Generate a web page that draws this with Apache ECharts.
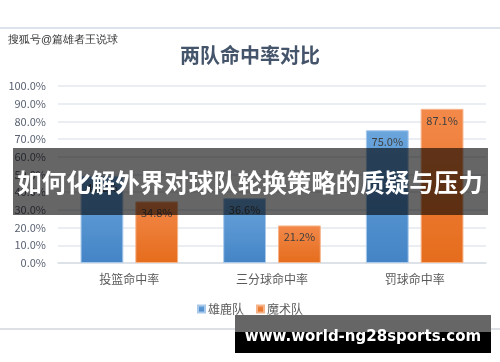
<!DOCTYPE html>
<html><head><meta charset="utf-8">
<script src="https://cdn.jsdelivr.net/npm/echarts@6/dist/echarts.min.js"></script>
<style>html,body{margin:0;padding:0;background:#fff}#c{width:500px;height:362px}</style>
</head><body><div id="c"></div>
<script>
const categories = ['投篮命中率', '三分球命中率', '罚球命中率'];
const seriesNames = ['雄鹿队', '魔术队'];
const bucks = [49.2, 36.6, 75.0];
const magic = [34.8, 21.2, 87.1];
const yTicks = [0, 10, 20, 30, 40, 50, 60, 70, 80, 90, 100];
const titleText = '两队命中率对比';
const watermark = '搜狐号@篇雄者王说球';
const bannerText = '如何化解外界对球队轮换策略的质疑与压力';
const footerText = 'www.world-ng28sports.com';

const font = '"Noto Sans CJK SC", "Noto Sans", sans-serif';
const chart = echarts.init(document.getElementById('c'));
function grad(top, bottom) {
  return new echarts.graphic.LinearGradient(0, 0, 0, 1, [{offset: 0, color: top}, {offset: 1, color: bottom}]);
}
const labelCfg = {show: true, position: 'insideTop', distance: 6, color: '#404040', fontSize: 11, fontFamily: font,
  formatter: p => p.value.toFixed(1) + '%'};
chart.setOption({
  animation: false,
  backgroundColor: '#fff',
  title: {text: titleText, left: 'center', top: 40, textStyle: {fontSize: 20, fontWeight: 'bold', color: '#44546a', fontFamily: font}},
  grid: {left: 58, right: 14, top: 86, bottom: 99},
  legend: {data: seriesNames, left: 'center', top: 298, itemWidth: 7, itemHeight: 7, itemGap: 12,
    icon: 'rect', textStyle: {fontSize: 12, color: '#595959', fontFamily: font, padding: [0, 0, 0, -2]}},
  xAxis: {type: 'category', data: categories,
    axisLine: {lineStyle: {color: '#d9dee6', width: 1.5}}, axisTick: {show: false},
    axisLabel: {color: '#595959', fontSize: 12, margin: 10, fontFamily: font}},
  yAxis: {type: 'value', min: yTicks[0], max: yTicks[yTicks.length - 1], interval: 10,
    axisLine: {show: false}, axisTick: {show: false},
    splitLine: {lineStyle: {color: '#e3e8ef', width: 1.5}},
    axisLabel: {color: '#5a6272', fontSize: 11, margin: 12, fontFamily: font, formatter: v => v.toFixed(1) + '%'}},
  series: [
    {name: seriesNames[0], type: 'bar', data: bucks, barWidth: '30%', barGap: '28%',
      itemStyle: {color: grad('#6aa5dc', '#4484c6'), borderColor: '#a9c9ea', borderWidth: 1}, label: labelCfg},
    {name: seriesNames[1], type: 'bar', data: magic, barWidth: '30%',
      itemStyle: {color: grad('#f3894a', '#e56c1c'), borderColor: '#f6b48a', borderWidth: 1}, label: labelCfg}
  ],
  color: ['#5b9bd5', '#ed7d31'],
  graphic: [
    {type: 'rect', z: 100, shape: {x: 0, y: 27, width: 500, height: 2}, style: {fill: '#dde3ea'}},
    {type: 'text', z: 100, left: 8, top: 34, style: {text: watermark, fontSize: 11, fill: '#333', font: '11px ' + font}},
    {type: 'rect', z: 100, shape: {x: 0, y: 328, width: 500, height: 2}, style: {fill: '#dde0e4'}},
    {type: 'rect', z: 100, shape: {x: 13, y: 148, width: 475, height: 67}, style: {fill: 'rgba(0,0,0,0.6)'}},
    {type: 'text', z: 101, x: 250, y: 183, style: {text: bannerText, fill: '#fff', align: 'center', verticalAlign: 'middle',
      font: 'bold 24.5px ' + font}},
    {type: 'rect', z: 100, shape: {x: 235, y: 315, width: 256, height: 17}, style: {fill: '#666'}},
    {type: 'rect', z: 100, shape: {x: 235, y: 332, width: 256, height: 21}, style: {fill: '#000'}},
    {type: 'text', z: 101, x: 363, y: 337, style: {text: footerText, fill: '#fff', align: 'center', verticalAlign: 'middle',
      font: 'bold 15px "DejaVu Sans", sans-serif'}}
  ]
});
</script></body></html>
